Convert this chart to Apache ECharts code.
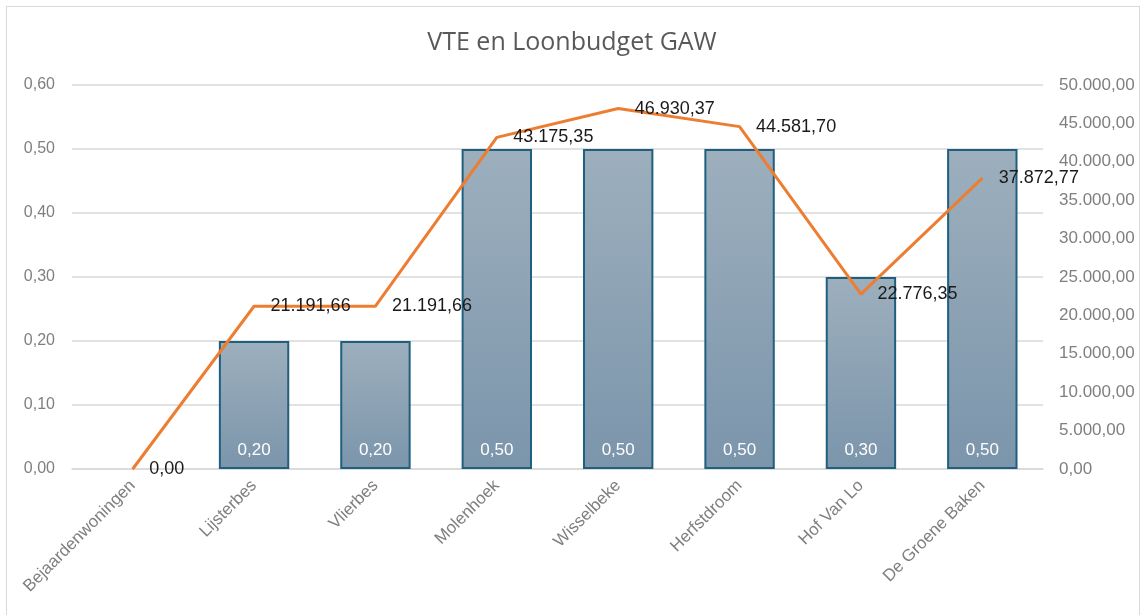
<!DOCTYPE html>
<html>
<head>
<meta charset="utf-8">
<script src="https://cdn.jsdelivr.net/npm/echarts@6/dist/echarts.min.js"></script>
<style>
  html, body { margin: 0; padding: 0; background: #fff; }
  #chart { width: 1144px; height: 615px; }
  .frame { position: absolute; left: 6px; top: 6px; width: 1134px; height: 620px; border: 1px solid #d9d9d9; box-sizing: border-box; pointer-events: none; }
</style>
</head>
<body>
<div id="chart"></div>
<div class="frame"></div>
<script>
var categories = ['Bejaardenwoningen', 'Lijsterbes', 'Vlierbes', 'Molenhoek', 'Wisselbeke', 'Herfstdroom', 'Hof Van Lo', 'De Groene Baken']
var vteValues = [0, 0.2, 0.2, 0.5, 0.5, 0.5, 0.3, 0.5]
var loonValues = [0, 21191.66, 21191.66, 43175.35, 46930.37, 44581.70, 22776.35, 37872.77]

// nl-NL notatie: 46.930,37
function nl (v, d) {
  var parts = v.toFixed(d).split('.')
  parts[0] = parts[0].replace(/\B(?=(\d{3})+(?!\d))/g, '.')
  return parts.join(',')
}

var font = 'Liberation Sans'

// lege staaf (0) zonder rand tekenen
var barData = vteValues.map(function (v) {
  return v === 0 ? { value: v, itemStyle: { borderWidth: 0 } } : v
})

var option = {
  backgroundColor: '#fff',
  title: {
    text: 'VTE en Loonbudget GAW',
    left: 'center',
    top: 25,
    textStyle: { color: '#595959', fontSize: 25, fontWeight: 'normal', fontFamily: 'Open Sans' }
  },
  grid: { left: 72, right: 101, top: 85, bottom: 146, containLabel: false },
  xAxis: {
    type: 'category',
    data: categories,
    axisLine: { show: true, lineStyle: { color: '#d9d9d9', width: 1.5 } },
    axisTick: { show: false },
    axisLabel: { rotate: 45, color: '#7f7f7f', fontSize: 17, fontFamily: font, margin: 14, interval: 0 }
  },
  yAxis: [
    {
      type: 'value',
      min: 0,
      max: 0.6,
      interval: 0.1,
      axisLine: { show: false },
      axisTick: { show: false },
      splitLine: { lineStyle: { color: '#d9d9d9', width: 1.5 } },
      axisLabel: { color: '#7f7f7f', fontSize: 16, fontFamily: font, margin: 17, formatter: function (v) { return nl(v, 2) } }
    },
    {
      type: 'value',
      min: 0,
      max: 50000,
      interval: 5000,
      axisLine: { show: false },
      axisTick: { show: false },
      splitLine: { show: false },
      axisLabel: { color: '#7f7f7f', fontSize: 17, fontFamily: font, margin: 16, formatter: function (v) { return nl(v, 2) } }
    }
  ],
  series: [
    {
      name: 'VTE',
      type: 'bar',
      data: barData,
      barWidth: '58%',
      itemStyle: {
        color: new echarts.graphic.LinearGradient(0, 0, 0, 1, [
          { offset: 0, color: '#9dafbd' },
          { offset: 1, color: '#7b95ab' }
        ]),
        borderColor: '#1f5f80',
        borderWidth: 2
      },
      label: {
        show: true,
        position: 'insideBottom',
        distance: 10,
        color: '#fff',
        fontSize: 17,
        fontFamily: font,
        formatter: function (p) { return nl(p.value, 2) }
      }
    },
    {
      name: 'Loonbudget',
      type: 'line',
      yAxisIndex: 1,
      data: loonValues,
      symbol: 'circle',
      symbolSize: 1,
      showSymbol: true,
      lineStyle: { color: '#ed7d31', width: 3 },
      itemStyle: { color: '#ed7d31' },
      label: {
        show: true,
        position: 'right',
        distance: 16,
        offset: [0, 2],
        color: '#1a1a1a',
        fontSize: 18,
        fontFamily: font,
        formatter: function (p) { return nl(p.value, 2) }
      },
      labelLayout: { hideOverlap: false },
      z: 3
    }
  ]
}

var chart = echarts.init(document.getElementById('chart'))
chart.setOption(option)
</script>
</body>
</html>
